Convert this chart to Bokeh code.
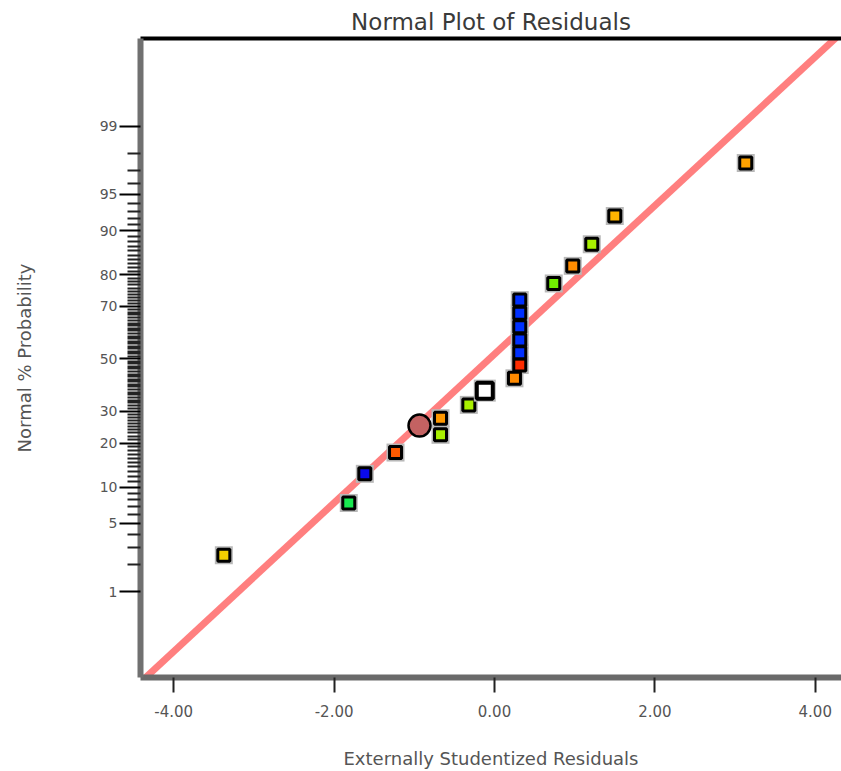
from statistics import NormalDist
from bokeh.plotting import figure
from bokeh.models import Range1d, FixedTicker, LinearAxis, ColumnDataSource, NumeralTickFormatter
from bokeh.embed import file_html
from bokeh.resources import INLINE

# ---- data ----
residuals = [-3.375, -1.817, -1.617, -1.234, -0.673, -0.673, -0.320, 0.249, 0.315,
             0.315, 0.315, 0.315, 0.315, 0.315, 0.739, 0.976, 1.213, 1.500, 3.133]
probabilities = [2.48, 7.48, 12.53, 17.46, 27.66, 22.39, 32.28, 42.31, 47.57,
                 52.47, 57.48, 62.60, 67.55, 72.17, 77.46, 82.38, 87.42, 92.35, 97.49]
point_colors = ["#f5d000", "#18e850", "#0a0aee", "#ff5a00", "#ff9800", "#a8f000",
                "#a8f000", "#ff8a00", "#ff2c00", "#0030ff", "#0030ff", "#0030ff",
                "#0030ff", "#0030ff", "#70f000", "#ff8c00", "#a8f000", "#ffb400", "#ffa200"]

circle_residual = [-0.935]
circle_probability = [25.24]
circle_color = ["#c46262"]

open_residual = [-0.121]
open_probability = [37.55]

fit_mean = -0.063
fit_sd = 1.346

prob_major = [1, 5, 10, 20, 30, 50, 70, 80, 90, 95, 99]
prob_minor = [v for v in range(1, 100) if v not in prob_major]
x_ticks = [-4, -2, 0, 2, 4]

nd = NormalDist()
def z(p):
    return round(nd.inv_cdf(p / 100.0), 6)

FONT = "DejaVu Sans"

p = figure(width=841, height=771, output_backend="svg", toolbar_location=None,
           x_range=Range1d(-4.414, 4.327), y_range=Range1d(-3.185, 3.203),
           min_border_left=140, min_border_right=0, min_border_top=38,
           min_border_bottom=93)
p.title.text = "Normal Plot of Residuals"
p.title.align = "center"
p.title.text_font = FONT
p.title.text_font_size = "23px"
p.title.text_font_style = "normal"
p.title.text_color = "#3a3a3a"
p.title.standoff = 8
p.title.offset = 0
p.outline_line_color = None
p.grid.visible = False

xa = p.below[0]
ya = p.left[0]

# top border
top_axis = LinearAxis(ticker=FixedTicker(ticks=[]), axis_line_color="black", axis_line_width=4,
                      major_tick_line_color=None, minor_tick_line_color=None,
                      major_tick_out=0, major_tick_in=0, minor_tick_out=0, minor_tick_in=0,
                      major_label_text_font_size="0px", major_label_standoff=0)
p.add_layout(top_axis, "above")

# fitted reference line
line_x = [-6.0, 6.0]
line_z = [(v - fit_mean) / fit_sd for v in line_x]
p.line(line_x, line_z, line_color="#ff7f7f", line_width=7)

# square points
src = ColumnDataSource(dict(x=residuals, y=[z(v) for v in probabilities], c=point_colors))
p.scatter("x", "y", source=src, marker="square", size=18, fill_color="#b8b8b8",
          line_color=None)
p.scatter("x", "y", source=src, marker="square", size=12, fill_color="c",
          line_color="black", line_width=3)

# open (white) point
p.scatter(open_residual, [z(v) for v in open_probability], marker="square", size=22,
          fill_color="#b8b8b8", line_color=None)
p.scatter(open_residual, [z(v) for v in open_probability], marker="square", size=16,
          fill_color="white", line_color="black", line_width=4)

# circle point
p.scatter(circle_residual, [z(v) for v in circle_probability], marker="circle", size=22,
          fill_color=circle_color[0], line_color="black", line_width=2.5)

# x axis
xa.ticker = FixedTicker(ticks=x_ticks)
xa.formatter = NumeralTickFormatter(format="0.00")
xa.axis_label = "Externally Studentized Residuals"
xa.axis_line_color = "#6a6a6a"
xa.axis_line_width = 6
xa.major_tick_line_color = "#222222"
xa.major_tick_line_width = 2
xa.major_tick_out = 15
xa.major_tick_in = 0
xa.minor_tick_line_color = None
xa.major_label_standoff = 12
xa.major_label_text_font = FONT
xa.major_label_text_font_size = "15px"
xa.major_label_text_color = "#555555"
xa.axis_label_text_font = FONT
xa.axis_label_text_font_size = "18px"
xa.axis_label_text_font_style = "normal"
xa.axis_label_text_color = "#555555"
xa.axis_label_standoff = 28

# y axis (normal probability scale)
ya.ticker = FixedTicker(ticks=[z(v) for v in prob_major], minor_ticks=[z(v) for v in prob_minor])
ya.major_label_overrides = {z(v): str(v) for v in prob_major}
ya.axis_label = "Normal % Probability"
ya.axis_line_color = "#707070"
ya.axis_line_width = 6
ya.major_tick_line_color = "black"
ya.major_tick_line_width = 2
ya.major_tick_out = 21
ya.major_tick_in = 0
ya.minor_tick_line_color = "#222222"
ya.minor_tick_line_width = 2
ya.minor_tick_out = 13
ya.minor_tick_in = 0
ya.major_label_standoff = 2
ya.major_label_text_font = FONT
ya.major_label_text_font_size = "14px"
ya.major_label_text_color = "#555555"
ya.axis_label_text_font = FONT
ya.axis_label_text_font_size = "18px"
ya.axis_label_text_font_style = "normal"
ya.axis_label_text_color = "#555555"
ya.axis_label_standoff = 62

open("out.html", "w").write(file_html(p, INLINE))
